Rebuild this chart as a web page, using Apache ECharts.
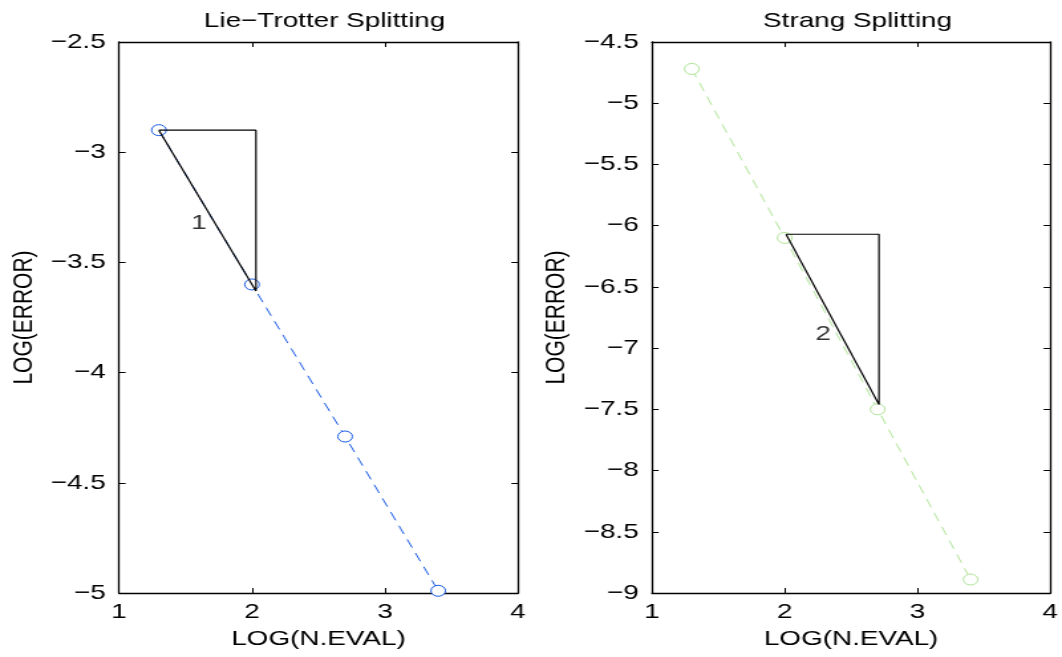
<!DOCTYPE html>
<html>
<head>
<meta charset="utf-8">
<script src="https://cdn.jsdelivr.net/npm/echarts@6/dist/echarts.min.js"></script>
<style>
  html, body { margin: 0; padding: 0; background: #fff; overflow: hidden; }
  /* the original figure is stretched sideways, so draw at 800 wide and stretch */
  #main { width: 800px; height: 657px; transform: scaleX(1.3275); transform-origin: 0 0; }
</style>
</head>
<body>
<div id="main"></div>
<script>
// log10 of number of evaluations
var logEval = [1.3, 2.0, 2.7, 3.4];
// log10 of errors
var lieErr = [-2.9, -3.6, -4.29, -4.99];
var strangErr = [-4.72, -6.1, -7.5, -8.89];
// slope triangles
var lieTri = [[1.3, -2.9], [2.03, -2.9], [2.03, -3.63], [1.3, -2.9]];
var strangTri = [[2.01, -6.07], [2.71, -6.07], [2.71, -7.46], [2.01, -6.07]];
var lieSlopeLabel = [[1.6, -3.32, '1']];
var strangSlopeLabel = [[2.29, -6.89, '2']];

var FONT = '"Liberation Sans", Arial, sans-serif';
var FS = 21;

function pairs(xs, ys) {
  return xs.map(function (x, i) { return [x, ys[i]]; });
}
function minusFmt(v) {
  return String(v).replace('-', '\u2212');
}

function xAx(gridIndex, top) {
  return {
    type: 'value', gridIndex: gridIndex, min: 1, max: 4, interval: 1,
    position: top ? 'top' : 'bottom',
    name: top ? '' : 'LOG(N.EVAL)', nameLocation: 'middle', nameGap: 36,
    nameTextStyle: { fontFamily: FONT, fontSize: FS, color: '#000' },
    axisLine: { show: true, onZero: false, lineStyle: { color: '#000', width: 1.3 } },
    axisTick: { show: true, inside: true, length: 5, lineStyle: { color: '#000' } },
    axisLabel: { show: !top, fontFamily: FONT, fontSize: FS, color: '#000', margin: 9 },
    splitLine: { show: false }
  };
}
function yAx(gridIndex, min, max, right) {
  return {
    type: 'value', gridIndex: gridIndex, min: min, max: max, interval: 0.5,
    position: right ? 'right' : 'left',
    name: right ? '' : 'LOG(ERROR)', nameLocation: 'middle', nameGap: 61,
    nameTextStyle: { fontFamily: FONT, fontSize: FS, color: '#000' },
    axisLine: { show: true, onZero: false, lineStyle: { color: '#000', width: 1.3 } },
    axisTick: { show: true, inside: true, length: 5, lineStyle: { color: '#000' } },
    axisLabel: { show: !right, fontFamily: FONT, fontSize: FS, color: '#000', margin: 10, formatter: minusFmt },
    splitLine: { show: false }
  };
}

function dataSeries(idx, ys, color) {
  return {
    type: 'line', xAxisIndex: idx * 2, yAxisIndex: idx * 2,
    data: pairs(logEval, ys),
    symbol: 'circle', symbolSize: 11,
    itemStyle: { color: '#fff', borderColor: color, borderWidth: 1 },
    lineStyle: { color: color, width: 1, type: [9, 6] },
    animation: false, z: 3
  };
}
function triSeries(idx, pts) {
  return {
    type: 'line', xAxisIndex: idx * 2, yAxisIndex: idx * 2,
    data: pts, symbol: 'none',
    lineStyle: { color: '#000', width: 1.2 },
    animation: false, z: 4
  };
}
function labelSeries(idx, pts) {
  return {
    type: 'scatter', xAxisIndex: idx * 2, yAxisIndex: idx * 2,
    data: pts, symbolSize: 0,
    label: { show: true, position: 'inside', formatter: function (p) { return p.data[2]; },
             fontFamily: FONT, fontSize: FS, color: '#000' },
    animation: false, z: 5
  };
}

var chart = echarts.init(document.getElementById('main'));
chart.setOption({
  backgroundColor: '#fff',
  title: [
    { text: 'Lie\u2212Trotter Splitting', left: 239.5, top: 6, textAlign: 'center',
      textStyle: { fontFamily: FONT, fontSize: FS, fontWeight: 'normal', color: '#000' } },
    { text: 'Strang Splitting', left: 641, top: 6, textAlign: 'center',
      textStyle: { fontFamily: FONT, fontSize: FS, fontWeight: 'normal', color: '#000' } }
  ],
  grid: [
    { left: 89.6, right: 409.8, top: 42, bottom: 64 },
    { left: 491.1, right: 8, top: 42, bottom: 64 }
  ],
  xAxis: [xAx(0, false), xAx(0, true), xAx(1, false), xAx(1, true)],
  yAxis: [yAx(0, -5, -2.5, false), yAx(0, -5, -2.5, true), yAx(1, -9, -4.5, false), yAx(1, -9, -4.5, true)],
  series: [
    dataSeries(0, lieErr, '#1a5ce6'),
    triSeries(0, lieTri),
    labelSeries(0, lieSlopeLabel),
    dataSeries(1, strangErr, '#b2e69a'),
    triSeries(1, strangTri),
    labelSeries(1, strangSlopeLabel)
  ]
});
</script>
</body>
</html>
